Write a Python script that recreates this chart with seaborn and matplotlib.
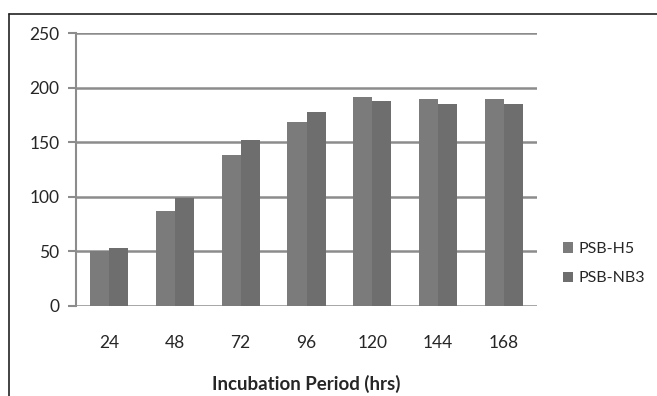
import matplotlib
matplotlib.use("Agg")
import matplotlib.pyplot as plt
import seaborn as sns
import pandas as pd
from matplotlib.lines import Line2D

periods = ["24", "48", "72", "96", "120", "144", "168"]
psb_h5 = [50, 87, 138, 169, 192, 190, 190]
psb_nb3 = [53, 99, 152, 178, 188, 185, 185]
series_names = ["PSB-H5", "PSB-NB3"]
yticks = [0, 50, 100, 150, 200, 250]

df = pd.DataFrame({
    "period": periods * 2,
    "value": psb_h5 + psb_nb3,
    "series": [series_names[0]] * len(periods) + [series_names[1]] * len(periods),
})

sns.set_style("white")
plt.rcParams["font.family"] = ["Lato", "DejaVu Sans"]

fig = plt.figure(figsize=(6.57, 3.96), dpi=100)
ax = fig.add_axes([0.1157, 0.2273, 0.8174 - 0.1157, 0.916 - 0.2273])

sns.barplot(data=df, x="period", y="value", hue="series", order=periods,
            palette=["#7b7b7b", "#6e6e6e"], width=0.58, gap=0,
            saturation=1, ax=ax, legend=True, zorder=3)
for p in ax.patches:
    p.set_edgecolor("none")

ax.set_ylim(0, 250)
ax.set_xlim(-0.5, 6.5)
ax.set_yticks(yticks)
ax.set_yticklabels([str(v) for v in yticks], fontsize=12.5)
ax.set_xticks(range(len(periods)))
ax.set_xticklabels(periods, fontsize=12.5)
ax.tick_params(axis="x", length=0, pad=21)
ax.tick_params(axis="y", length=6, width=1.5, color="#8c8c8c", pad=6, left=True)
for v in yticks:
    ax.axhline(v, color="#8c8c8c", lw=1.8, zorder=1, xmin=0, xmax=1)
for s in ["top", "right", "bottom"]:
    ax.spines[s].set_visible(False)
ax.spines["left"].set_color("#8c8c8c")
ax.spines["left"].set_linewidth(1.5)
ax.set_ylabel("")
ax.set_xlabel("Incubation Period (hrs)", fontsize=13.5, fontweight="bold", labelpad=17)

leg = ax.legend(loc="center left", bbox_to_anchor=(1.025, 0.155), frameon=False,
                fontsize=11.5, handlelength=0.6, handleheight=0.6,
                labelspacing=0.95, handletextpad=0.35)

# outer frame lines (top and left)
fig.add_artist(Line2D([9 / 657, 9 / 657], [0, 1 - 14 / 396], transform=fig.transFigure,
                      color="#222222", lw=1.2))
fig.add_artist(Line2D([9 / 657, 1], [1 - 14 / 396, 1 - 14 / 396], transform=fig.transFigure,
                      color="#222222", lw=1.2))

fig.savefig("out.png", dpi=100)
